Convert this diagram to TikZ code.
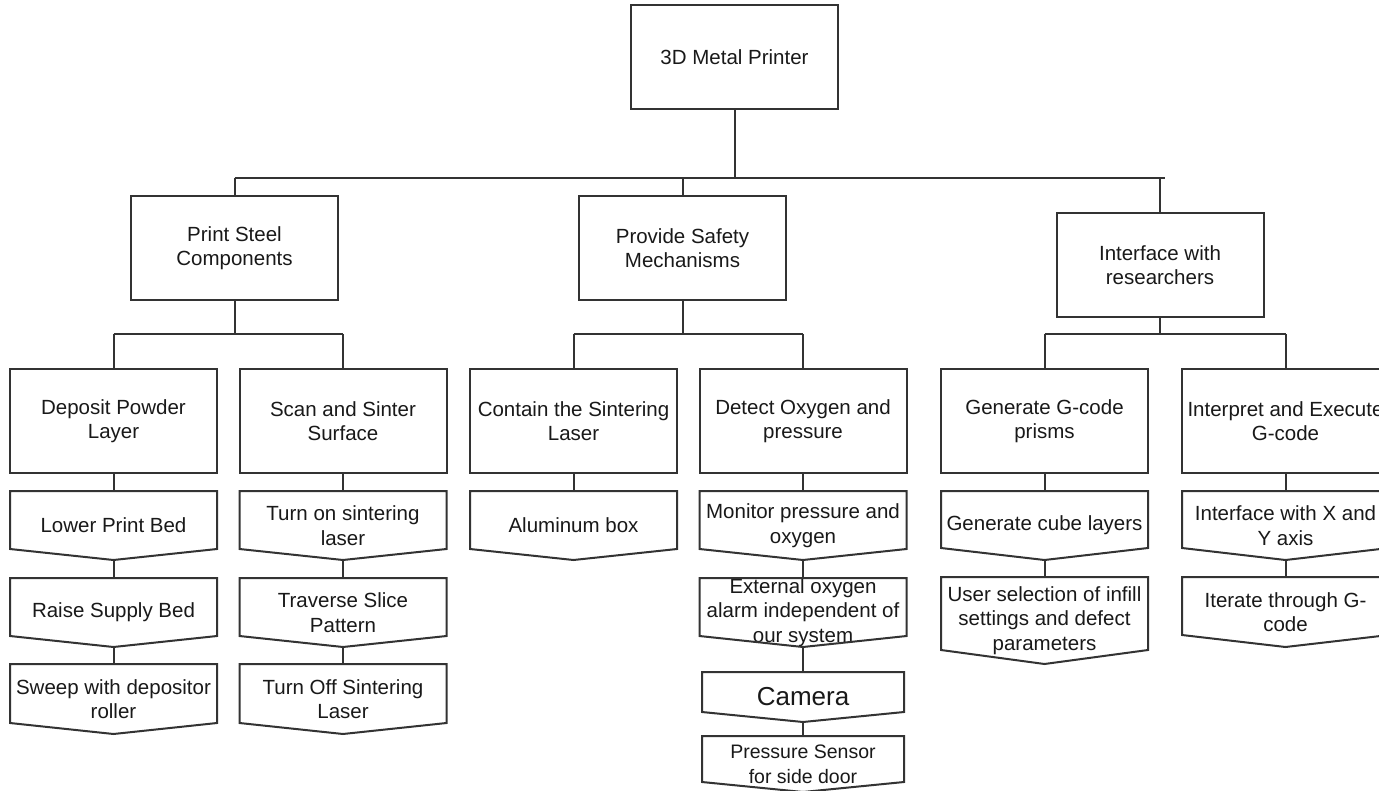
\documentclass[tikz,border=0pt]{standalone}
\usepackage{fontspec}
\setmainfont{Liberation Sans}
\usetikzlibrary{calc}
\newcommand\pnode[8]{%
  \node[pshape, minimum width=#6pt, minimum height={(#5-#3)*1pt}, label={[ptxt,#7]center:{#8}}] (#1) at (#2,{(#3+#5)/2}) {};
  \draw[ln] (#1.north west) -- (#1.north east) -- ([yshift={(#5-#4)*1pt}]#1.south east) -- (#1.south) -- ([yshift={(#5-#4)*1pt}]#1.south west) -- cycle;
}
\begin{document}
\begin{tikzpicture}[x=1pt,y=-1pt,
  ln/.style={draw=black!80, line width=2pt, line join=miter},
  ptxt/.style={inner sep=0pt, outer sep=0pt, align=center, text=black!90, font=\fontsize{20.5}{24.5}\selectfont},
  box/.style={ln, rectangle, minimum width=207pt, minimum height=104pt, inner sep=0pt, outer sep=0pt, align=center, text=black!90, font=\fontsize{20.5}{24.5}\selectfont},
  pshape/.style={rectangle, draw=none, inner sep=0pt, outer sep=0pt},
  cam/.style={font=\fontsize{26}{30}\selectfont},
  pss/.style={font=\fontsize{19.5}{25}\selectfont}
]
\useasboundingbox[fill=white] (0,0) rectangle (1379,790);

% level 1
\node[box] (top) at (734.5,57) {3D Metal Printer};
% level 2
\node[box] (psc) at (234.5,248) {Print Steel\\Components};
\node[box] (psm) at (682.5,248) {Provide Safety\\Mechanisms};
\node[box] (iwr) at (1160,265) {Interface with\\researchers};
% level 3
\node[box] (dpl) at (113.5,421) {Deposit Powder\\Layer};
\node[box] (sss) at (343,421) {Scan and Sinter\\Surface};
\node[box] (csl) at (573.5,421) {Contain the Sintering\\Laser};
\node[box] (dop) at (803,421) {Detect Oxygen and\\pressure};
\node[box] (ggp) at (1044.5,421) {Generate G-code\\prisms};
\node[box] (iae) at (1285.5,421) {Interpret and Execute\\G-code};

% level 4 (offpage-like shapes)
\pnode{lpb}{113.5}{491}{549}{560}{207}{}{Lower Print Bed}
\pnode{rsb}{113.5}{578}{636}{647}{207}{}{Raise Supply Bed}
\pnode{swd}{113.5}{664}{723}{734}{207}{}{Sweep with depositor\\roller}
\pnode{tos}{343}{491}{549}{560}{207}{}{Turn on sintering\\laser}
\pnode{tsp}{343}{578}{636}{647}{207}{}{Traverse Slice\\Pattern}
\pnode{tof}{343}{664}{723}{734}{207}{}{Turn Off Sintering\\Laser}
\pnode{alb}{573.5}{491}{549}{560}{207}{}{Aluminum box}
\pnode{mpo}{803}{491}{549}{560}{207}{}{Monitor pressure and\\oxygen}
\pnode{eoa}{803}{578}{636}{647}{207}{}{External oxygen\\alarm independent of\\our system}
\pnode{cam}{803}{672}{712}{722}{202}{cam}{Camera}
\pnode{pse}{803}{736}{782}{792}{202}{pss}{Pressure Sensor\\for side door}
\pnode{gcl}{1044.5}{491}{548}{560}{207}{}{Generate cube layers}
\pnode{usi}{1044.5}{577}{650}{664}{207}{}{User selection of infill\\settings and defect\\parameters}
\pnode{ixy}{1285.5}{491}{548}{560}{207}{}{Interface with X and\\Y axis}
\pnode{itg}{1285.5}{577}{635}{647}{207}{}{Iterate through G-\\code}

% bus coordinates
\coordinate (busA) at (0,178);
\coordinate (busAend) at (1165,178);
\coordinate (busB) at (0,334);

% top level connectors
\draw[ln] (top.south) -- (top.south |- busA);
\draw[ln] (psc.north |- busA) -- (busAend);
\draw[ln] (psc.north) -- (psc.north |- busA);
\draw[ln] (psm.north) -- (psm.north |- busA);
\draw[ln] (iwr.north) -- (iwr.north |- busA);

% second level connectors
\draw[ln] (psc.south) -- (psc.south |- busB);
\draw[ln] (dpl.north |- busB) -- (sss.north |- busB);
\draw[ln] (dpl.north) -- (dpl.north |- busB);
\draw[ln] (sss.north) -- (sss.north |- busB);

\draw[ln] (psm.south) -- (psm.south |- busB);
\draw[ln] (csl.north |- busB) -- (dop.north |- busB);
\draw[ln] (csl.north) -- (csl.north |- busB);
\draw[ln] (dop.north) -- (dop.north |- busB);

\draw[ln] (iwr.south) -- (iwr.south |- busB);
\draw[ln] (ggp.north |- busB) -- (iae.north |- busB);
\draw[ln] (ggp.north) -- (ggp.north |- busB);
\draw[ln] (iae.north) -- (iae.north |- busB);

% chains
\draw[ln] (dpl.south) -- (lpb.north);
\draw[ln] (lpb.south) -- (rsb.north);
\draw[ln] (rsb.south) -- (swd.north);
\draw[ln] (sss.south) -- (tos.north);
\draw[ln] (tos.south) -- (tsp.north);
\draw[ln] (tsp.south) -- (tof.north);
\draw[ln] (csl.south) -- (alb.north);
\draw[ln] (dop.south) -- (mpo.north);
\draw[ln] (mpo.south) -- (eoa.north);
\draw[ln] (eoa.south) -- (cam.north);
\draw[ln] (cam.south) -- (pse.north);
\draw[ln] (ggp.south) -- (gcl.north);
\draw[ln] (gcl.south) -- (usi.north);
\draw[ln] (iae.south) -- (ixy.north);
\draw[ln] (ixy.south) -- (itg.north);
\end{tikzpicture}
\end{document}
